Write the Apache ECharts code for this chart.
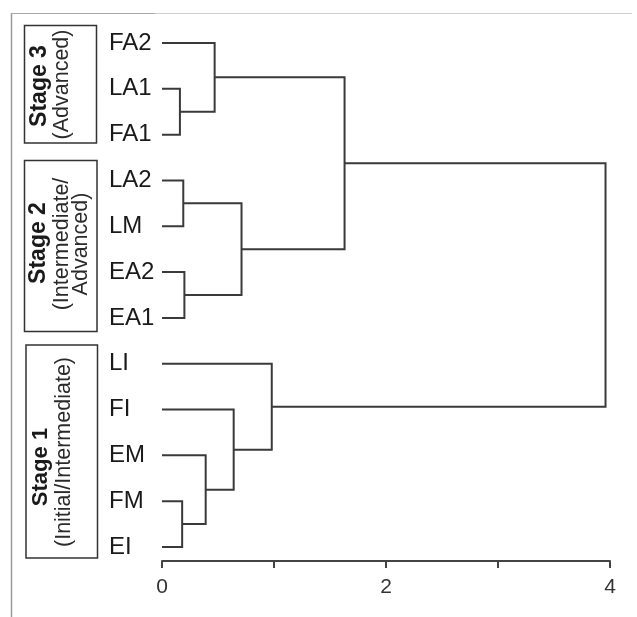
<!DOCTYPE html>
<html>
<head>
<meta charset="utf-8">
<script src="https://cdn.jsdelivr.net/npm/echarts@6/dist/echarts.min.js"></script>
<style>
html,body{margin:0;padding:0;background:#fff;}
#chart{width:637px;height:617px;}
</style>
</head>
<body>
<div id="chart"></div>
<script>
// Leaves, top to bottom
const leaves = ['FA2', 'LA1', 'FA1', 'LA2', 'LM', 'EA2', 'EA1', 'LI', 'FI', 'EM', 'FM', 'EI'];
// Merges: left child, right child, linkage height (cN = cluster from merge N)
const mergeLeft   = ['LA1', 'FA2', 'LA2', 'EA2', 'c2', 'c1', 'FM', 'EM', 'FI', 'LI', 'c5'];
const mergeRight  = ['FA1', 'c0',  'LM',  'EA1', 'c3', 'c4', 'EI', 'c6', 'c7', 'c8', 'c9'];
const mergeHeight = [0.16, 0.47, 0.19, 0.20, 0.71, 1.63, 0.18, 0.39, 0.64, 0.98, 3.96];
// Axis ticks
const xTicks = [0, 1, 2, 3, 4];
const xTickLabels = ['0', '', '2', '', '4'];
// Stage annotations
const stageTitles = ['Stage 3', 'Stage 2', 'Stage 1'];
const stageSubtitles = [['(Advanced)'], ['(Intermediate/', 'Advanced)'], ['(Initial/Intermediate)']];

// Build node positions from data
const nodePos = {};
leaves.forEach((n, i) => { nodePos[n] = { x: 0, y: i }; });
const linkData = [];
mergeLeft.forEach((l, i) => {
  const a = nodePos[l], b = nodePos[mergeRight[i]], h = mergeHeight[i];
  linkData.push([a.x, a.y, b.x, b.y, h]);
  nodePos['c' + i] = { x: h, y: (a.y + b.y) / 2 };
});

const FONT = 'Liberation Sans, Arial, Helvetica, sans-serif';
const chart = echarts.init(document.getElementById('chart'), null, { renderer: 'canvas' });

const graphics = [
  { type: 'line', shape: { x1: 11.5, y1: 13, x2: 11.5, y2: 617 }, style: { stroke: '#9a9a9a', lineWidth: 1.5 } },
  { type: 'line', shape: { x1: 11, y1: 13.5, x2: 155, y2: 13.5 }, style: { stroke: '#a8a8a8', lineWidth: 1.2 } },
  { type: 'line', shape: { x1: 155, y1: 13.5, x2: 632, y2: 13.5 }, style: { stroke: '#cfcfcf', lineWidth: 1.2 } },
  // boxes
  { type: 'rect', shape: { x: 24.5, y: 25.5, width: 72, height: 117.5 }, style: { fill: null, stroke: '#333', lineWidth: 1.5 } },
  { type: 'rect', shape: { x: 24.5, y: 160.5, width: 72.5, height: 171 }, style: { fill: null, stroke: '#333', lineWidth: 1.5 } },
  { type: 'rect', shape: { x: 26, y: 345, width: 71.5, height: 213 }, style: { fill: null, stroke: '#333', lineWidth: 1.5 } }
];
const titleX = [40, 38.5, 40.5], titleY = [86, 243, 467], titleSize = [23, 23, 22];
const subX = [[62.5], [62, 81], [64]], subY = [84.5, 244, 452];
stageTitles.forEach((t, i) => {
  graphics.push({ type: 'text', x: titleX[i], y: titleY[i], rotation: Math.PI / 2,
    style: { text: t, fontFamily: FONT, fontWeight: 'bold', fontSize: titleSize[i], fill: '#1a1a1a', align: 'center', verticalAlign: 'middle' } });
  stageSubtitles[i].forEach((s, j) => {
    graphics.push({ type: 'text', x: subX[i][j], y: subY[i], rotation: Math.PI / 2,
      style: { text: s, fontFamily: FONT, fontSize: 21.5, fill: '#2a2a2a', align: 'center', verticalAlign: 'middle' } });
  });
});

chart.setOption({
  animation: false,
  backgroundColor: '#ffffff',
  grid: { left: 162, right: 27, top: 43, bottom: 70 },
  xAxis: {
    type: 'value', min: xTicks[0], max: xTicks[xTicks.length - 1], interval: 1,
    position: 'bottom', offset: 14,
    axisLine: { show: true, onZero: false, lineStyle: { color: '#444', width: 2 } },
    axisTick: { show: true, length: 7, lineStyle: { color: '#444', width: 2 } },
    splitLine: { show: false },
    axisLabel: { formatter: v => xTickLabels[xTicks.indexOf(v)], fontSize: 21, color: '#333', fontFamily: FONT, margin: 16 }
  },
  yAxis: {
    type: 'value', min: 0, max: leaves.length - 1, interval: 1, inverse: true,
    axisLine: { show: false }, axisTick: { show: false }, splitLine: { show: false },
    axisLabel: { formatter: v => leaves[v], align: 'left', margin: 53, fontSize: 24, color: '#1a1a1a', fontFamily: FONT }
  },
  series: [{
    type: 'custom',
    data: linkData,
    encode: { x: [0, 2, 4], y: [1, 3] },
    renderItem: function (params, api) {
      const p1 = api.coord([api.value(0), api.value(1)]);
      const p2 = api.coord([api.value(4), api.value(1)]);
      const p3 = api.coord([api.value(4), api.value(3)]);
      const p4 = api.coord([api.value(2), api.value(3)]);
      return { type: 'polyline', shape: { points: [p1, p2, p3, p4] },
        style: { stroke: '#3a3a3a', lineWidth: 2, fill: null } };
    }
  }],
  graphic: graphics
});
</script>
</body>
</html>
